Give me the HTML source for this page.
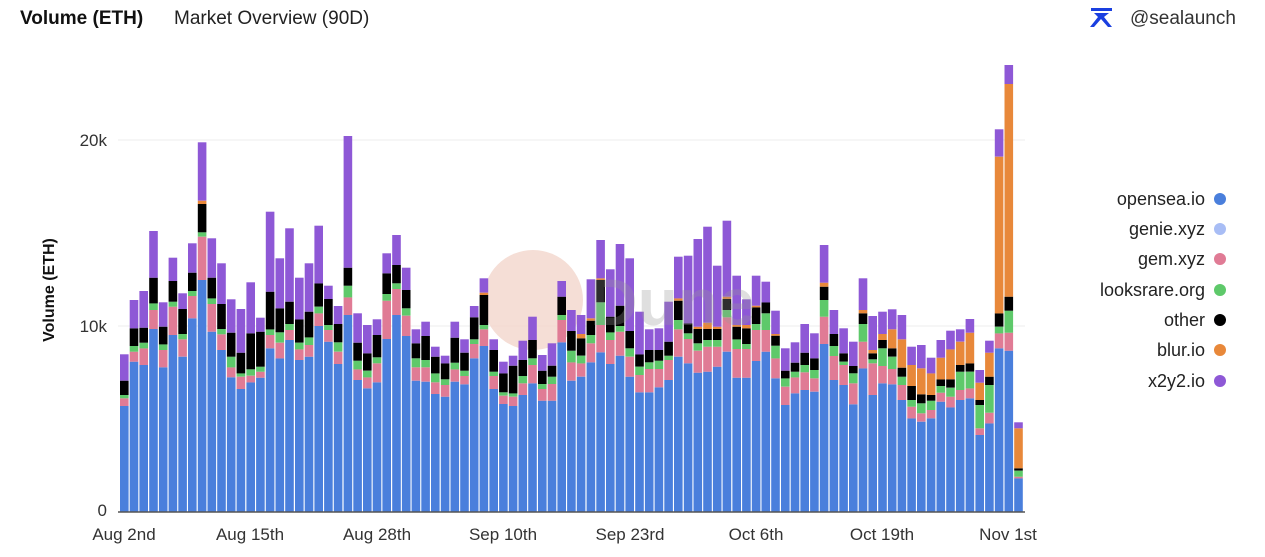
<!DOCTYPE html>
<html><head><meta charset="utf-8"><style>
body{margin:0;background:#fff;font-family:"Liberation Sans",sans-serif;}
svg text{font-family:"Liberation Sans",sans-serif;}
</style></head><body>
<svg id="s" width="1265" height="552" xmlns="http://www.w3.org/2000/svg">
<rect width="1265" height="552" fill="#fff"/>
<text x="20" y="24" font-size="19" font-weight="bold" fill="#111">Volume (ETH)</text>
<text x="174" y="24" font-size="19" fill="#222">Market Overview (90D)</text>
<g fill="#1a3fe0"><path d="M1091 8 L1112 8 L1112 11 L1091 11Z M1094 13 L1109 13 L1104 17 L1112 27 L1108 27 L1101 19 L1094 27 L1090 27 L1098 17Z"/></g>
<text x="1130" y="24" font-size="19" fill="#333">@sealaunch</text>
<line x1="118" y1="140" x2="1025" y2="140" stroke="#eee"/>
<line x1="118" y1="326" x2="1025" y2="326" stroke="#eee"/>
<text x="107" y="146" font-size="17" text-anchor="end" fill="#333">20k</text>
<text x="107" y="332" font-size="17" text-anchor="end" fill="#333">10k</text>
<text x="107" y="516" font-size="17" text-anchor="end" fill="#333">0</text>
<text transform="translate(54,290) rotate(-90)" font-size="16" font-weight="bold" text-anchor="middle" fill="#111">Volume (ETH)</text>
<circle cx="533" cy="300" r="50" fill="#f3d6cc" opacity="0.8"/>
<g id="bars"></g>
<text x="590" y="325" font-size="66" fill="#999" opacity="0.3" font-weight="bold">Dune</text>
<line x1="118" y1="512" x2="1025" y2="512" stroke="#555" stroke-width="1.5"/>
<g font-size="17" fill="#333" text-anchor="middle">
<text x="124" y="540">Aug 2nd</text><text x="250" y="540">Aug 15th</text><text x="377" y="540">Aug 28th</text>
<text x="503" y="540">Sep 10th</text><text x="630" y="540">Sep 23rd</text><text x="756" y="540">Oct 6th</text>
<text x="882" y="540">Oct 19th</text><text x="1008" y="540">Nov 1st</text></g>
<g font-size="18" fill="#222" text-anchor="end">
<text x="1205" y="205">opensea.io</text><text x="1205" y="235">genie.xyz</text><text x="1205" y="265">gem.xyz</text>
<text x="1205" y="296">looksrare.org</text><text x="1205" y="326">other</text><text x="1205" y="356">blur.io</text><text x="1205" y="387">x2y2.io</text></g>
<circle cx="1220" cy="199" r="6" fill="#4a7fdc"/><circle cx="1220" cy="229" r="6" fill="#a8bdf5"/>
<circle cx="1220" cy="259" r="6" fill="#e07b95"/><circle cx="1220" cy="290" r="6" fill="#5ec96a"/>
<circle cx="1220" cy="320" r="6" fill="#000"/><circle cx="1220" cy="350" r="6" fill="#e8883a"/>
<circle cx="1220" cy="381" r="6" fill="#8e58d6"/>
</svg>
<script>
var A=[[828,805,795,752,0,673],[695,665,648,595,0,510],[705,655,638,593,0,483],[597,540,520,443,0,303],[712,660,643,590,0,517],[615,530,515,453,0,383],[680,628,612,537,0,490],[565,498,483,428,0,340],[450,320,307,222,212,37],[605,522,505,443,0,325],[660,613,597,522,0,400],[742,712,680,608,0,508],[777,740,730,668,0,537],[757,737,718,610,0,457],[743,725,710,605,0,563],[655,615,598,485,0,245],[685,638,607,535,0,385],[630,600,582,515,0,295],[690,658,638,568,0,443],[680,645,622,545,0,400],[588,550,530,460,0,287],[635,600,585,507,0,467],[702,665,637,582,0,528],[555,502,467,413,0,18],
[750,718,692,638,0,550],[775,742,722,670,0,585],[757,700,682,615,0,568],[627,512,492,430,0,370],[555,477,460,405,0,315],[618,557,535,480,0,413],[752,712,685,640,0,598],[755,712,690,618,0,575],[792,757,730,680,0,650],[800,765,748,700,0,677],[755,718,698,623,0,575],[763,738,722,668,0,628],[685,642,628,562,0,528],[648,598,585,495,488,445],[777,738,725,660,0,628],[822,797,787,730,0,695],[828,800,790,707,0,677],[795,760,738,690,0,632],[760,705,685,630,0,560],[812,777,762,722,0,675],[812,762,740,707,0,640],[637,570,555,500,0,453],[752,697,662,603,0,540],[740,700,677,625,612,555],
[697,640,615,572,565,448],[667,585,517,450,445,330],[702,630,607,560,0,418],[677,605,588,527,0,342],[740,680,655,603,0,385],[787,735,710,673,0,545],[787,717,697,660,0,598],[772,717,692,660,0,595],[750,690,677,635,0,515],[680,598,570,512,505,380],[700,627,610,580,0,377],[728,662,640,597,590,327],[725,650,630,597,578,290],[710,650,630,597,590,407],[665,562,540,507,500,272],[743,657,628,590,585,437],[743,657,642,595,585,508],[693,600,582,532,527,437],[665,600,550,517,0,455],[745,685,647,617,612,542],[825,770,745,722,0,655],[790,742,725,698,0,637],[780,727,705,668,0,582]];
var B=[[995,955,930,895,0,820],[852,770,720,680,668,555],[960,888,858,822,0,750],[975,915,905,880,0,805],[1033,970,940,918,0,845],[925,845,792,760,750,655],[1005,910,898,880,870,768],[970,918,865,840,822,755],[973,927,890,865,808,748],[1020,975,950,923,838,765],[1075,1040,1020,978,915,860],[1085,1060,1030,1003,925,855],[1075,1050,1022,1005,940,893],[1025,998,978,958,893,840],[1042,1010,983,958,868,812],[1020,990,935,915,845,808],[1015,985,935,910,818,777],[1125,1105,1035,1020,968,930],[1090,1058,975,950,878,842],[865,820,800,760,290,208],[872,818,752,710,72,15],[1255,1250,1232,1225,1105,1087]];
var cols=["#4a7fdc","#e07b95","#5ec96a","#000","#e8883a","#8e58d6"];
var h="";
function draw(d,off,i){var x=120+i*9.72,prev=512;
for(var k=0;k<6;k++){var v=d[k];if(!v)continue;var y=off+v/3;
if(y<prev){h+='<rect x="'+x.toFixed(1)+'" y="'+y.toFixed(1)+'" width="8.6" height="'+(prev-y).toFixed(1)+'" fill="'+cols[k]+'"/>';prev=y;}}}
A.forEach(function(d,i){draw(d,130,i);});
B.forEach(function(d,i){draw(d,60,i+71);});
document.getElementById("bars").innerHTML=h;
</script>
</body></html>
